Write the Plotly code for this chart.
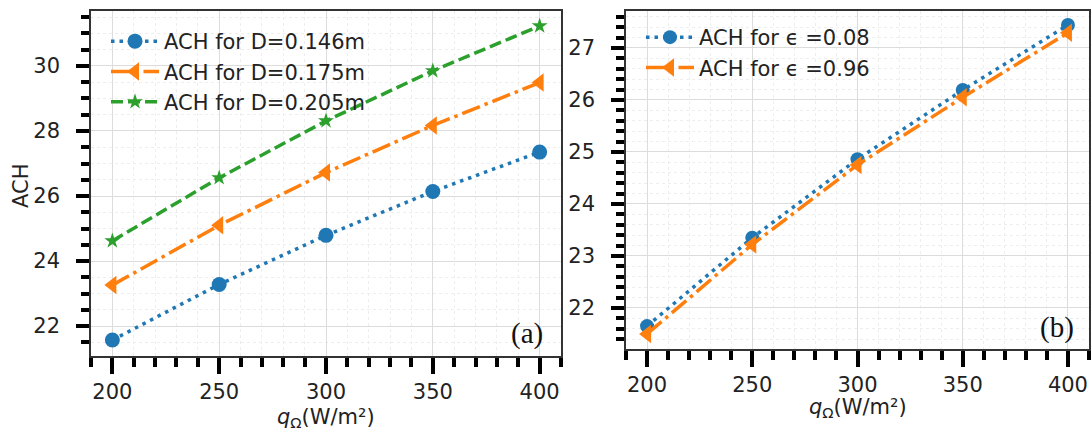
import plotly.graph_objects as go

# ---- data ----
q_vals = [200, 250, 300, 350, 400]
ach_d146 = [21.57, 23.28, 24.79, 26.14, 27.35]
ach_d175 = [23.26, 25.10, 26.72, 28.17, 29.49]
ach_d205 = [24.62, 26.56, 28.31, 29.85, 31.23]
ach_e008 = [21.65, 23.35, 24.86, 26.19, 27.44]
ach_e096 = [21.50, 23.22, 24.75, 26.05, 27.29]

names_left = ["ACH for D=0.146m", "ACH for D=0.175m", "ACH for D=0.205m"]
names_right = ["ACH for \u03f5 =0.08", "ACH for \u03f5 =0.96"]

BLUE, ORANGE, GREEN = "#1f77b4", "#ff7f0e", "#2ca02c"
FONT = "DejaVu Sans"
DOT = "3.5px,5px"
DASH = "12px,5px"
DASHDOT = "19px,5px,3.5px,5px"
LW = 3.5

fig = go.Figure()

fig.add_trace(go.Scatter(x=q_vals, y=ach_d146, name=names_left[0], mode="lines+markers",
                         line=dict(color=BLUE, width=LW, dash=DOT),
                         marker=dict(symbol="circle", size=15, color=BLUE),
                         xaxis="x", yaxis="y", legend="legend"))
fig.add_trace(go.Scatter(x=q_vals, y=ach_d175, name=names_left[1], mode="lines+markers",
                         line=dict(color=ORANGE, width=LW, dash=DASHDOT),
                         marker=dict(symbol="triangle-left", size=16, color=ORANGE),
                         xaxis="x", yaxis="y", legend="legend"))
fig.add_trace(go.Scatter(x=q_vals, y=ach_d205, name=names_left[2], mode="lines+markers",
                         line=dict(color=GREEN, width=LW, dash=DASH),
                         marker=dict(symbol="star", size=12, color=GREEN),
                         xaxis="x", yaxis="y", legend="legend"))

fig.add_trace(go.Scatter(x=q_vals, y=ach_e008, name=names_right[0], mode="lines+markers",
                         line=dict(color=BLUE, width=LW, dash=DOT),
                         marker=dict(symbol="circle", size=14, color=BLUE),
                         xaxis="x2", yaxis="y2", legend="legend2"))
fig.add_trace(go.Scatter(x=q_vals, y=ach_e096, name=names_right[1], mode="lines+markers",
                         line=dict(color=ORANGE, width=LW, dash=DASHDOT),
                         marker=dict(symbol="triangle-left", size=16, color=ORANGE),
                         xaxis="x2", yaxis="y2", legend="legend2"))

W, H = 1091, 432
TICKFONT = dict(family=FONT, size=21, color="#222")


def xaxis(dom, anchor):
    return dict(domain=dom, anchor=anchor, range=[190, 410], tick0=0, dtick=50,
                ticks="outside", ticklen=16, tickwidth=4, tickcolor="black",
                showline=True, linewidth=1.5, linecolor="#333", mirror=True,
                showgrid=True, gridcolor="#dcdcdc", gridwidth=1, zeroline=False,
                tickfont=TICKFONT, ticklabelstandoff=0,
                minor=dict(dtick=10, ticks="outside", ticklen=9, tickwidth=3.5, tickcolor="black",
                           showgrid=True, gridcolor="#eeeeee", griddash="3px,3px", gridwidth=1))


def yaxis(dom, anchor, rng, dtick, mdtick):
    return dict(domain=dom, anchor=anchor, range=rng, dtick=dtick, tick0=0,
                ticks="outside", ticklen=13, tickwidth=4, tickcolor="black",
                showline=True, linewidth=1.5, linecolor="#333", mirror=True,
                showgrid=True, gridcolor="#dcdcdc", gridwidth=1, zeroline=False,
                tickfont=TICKFONT, ticklabelstandoff=12,
                minor=dict(dtick=mdtick, ticks="outside", ticklen=8, tickwidth=3.5, tickcolor="black",
                           showgrid=True, gridcolor="#eeeeee", griddash="3px,3px", gridwidth=1))


LEGFONT = dict(family=FONT, size=21, color="#222")

fig.update_layout(
    width=W, height=H, margin=dict(l=0, r=0, t=0, b=0),
    paper_bgcolor="white", plot_bgcolor="white",
    xaxis=xaxis([91 / W, 561 / W], "y"),
    yaxis=yaxis([(H - 356) / H, (H - 11) / H], "x", [21.08, 31.69], 2, 0.5),
    xaxis2=xaxis([626 / W, 1089 / W], "y2"),
    yaxis2=yaxis([(H - 349) / H, (H - 11) / H], "x2", [21.21, 27.71], 1, 0.2),
    legend=dict(x=106 / W, y=(H - 21) / H, xanchor="left", yanchor="top",
                bgcolor="rgba(0,0,0,0)", borderwidth=0, itemwidth=48, font=LEGFONT),
    legend2=dict(x=641 / W, y=(H - 17) / H, xanchor="left", yanchor="top",
                 bgcolor="rgba(0,0,0,0)", borderwidth=0, itemwidth=48, font=LEGFONT),
    showlegend=True,
)

ann_font = dict(family=FONT, size=21, color="#222")
fig.add_annotation(text="<i>q</i><sub>\u03a9</sub>(W/m\u00b2)", x=326 / W, y=(H - 418) / H,
                   xanchor="center", yanchor="middle",
                   xref="paper", yref="paper", showarrow=False, font=ann_font)
fig.add_annotation(text="<i>q</i><sub>\u03a9</sub>(W/m\u00b2)", x=858 / W, y=(H - 408) / H,
                   xanchor="center", yanchor="middle",
                   xref="paper", yref="paper", showarrow=False, font=ann_font)
fig.add_annotation(text="ACH", x=21 / W, y=(H - 186) / H, textangle=-90,
                   xanchor="center", yanchor="middle",
                   xref="paper", yref="paper", showarrow=False, font=ann_font)
fig.add_annotation(text="(a)", x=527 / W, y=(H - 333) / H, xanchor="center", yanchor="middle",
                   xref="paper", yref="paper",
                   showarrow=False, font=dict(family="Liberation Serif", size=29, color="#111"))
fig.add_annotation(text="(b)", x=1057 / W, y=(H - 327) / H, xanchor="center", yanchor="middle",
                   xref="paper", yref="paper",
                   showarrow=False, font=dict(family="Liberation Serif", size=29, color="#111"))

fig.write_html("out.html", config={"displayModeBar": False},
               post_script="document.body.style.margin='0px';")
